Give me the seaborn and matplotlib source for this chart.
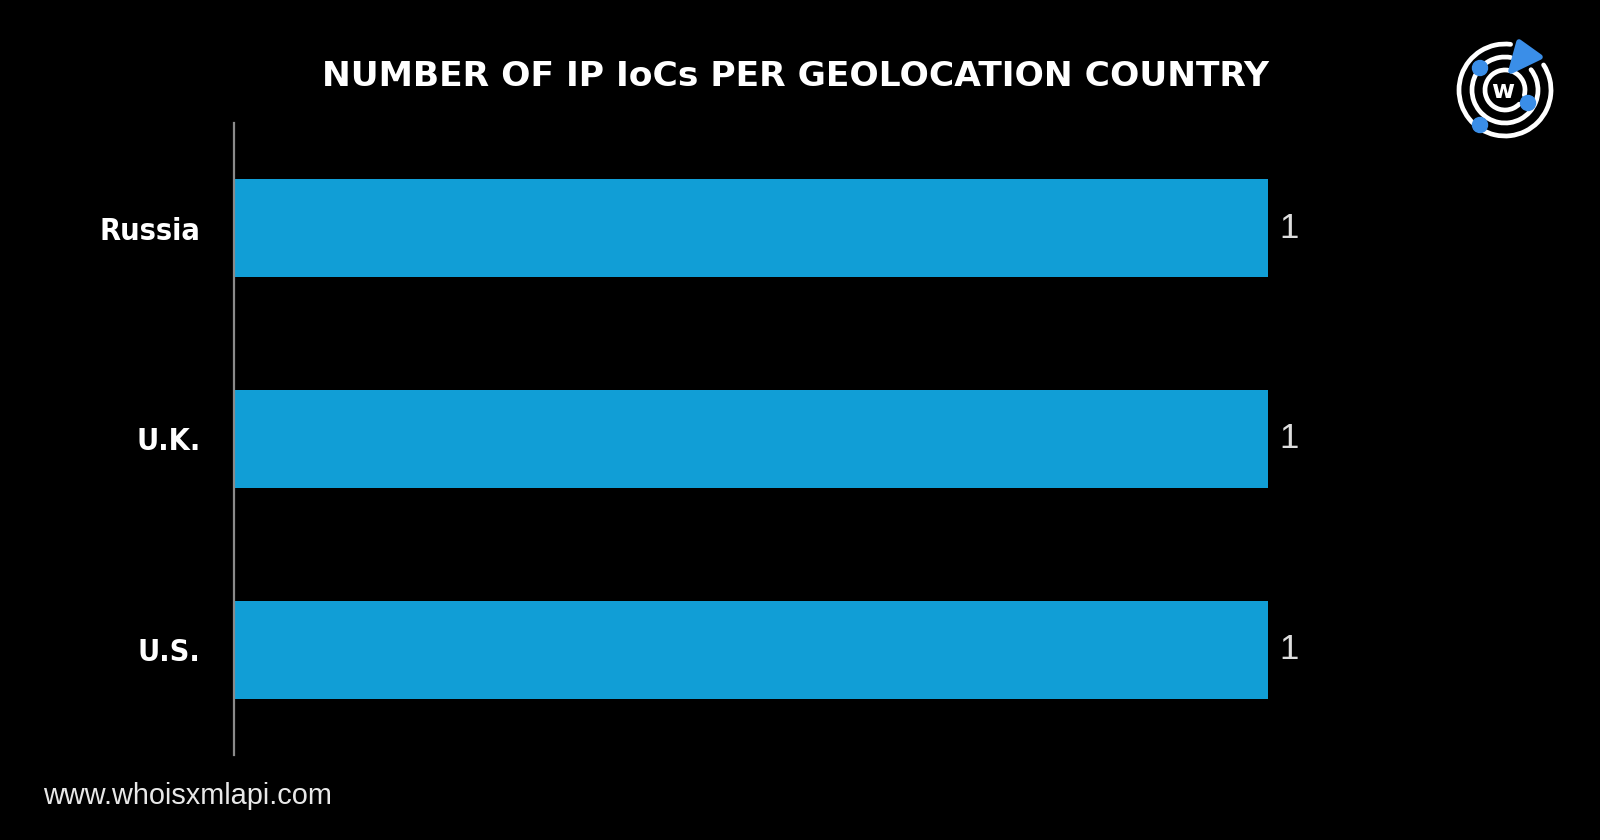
import matplotlib
matplotlib.use("Agg")
import matplotlib.pyplot as plt
import seaborn as sns
import pandas as pd
from matplotlib.patches import Arc, Circle, Polygon

countries = ["Russia", "U.K.", "U.S."]
ioc_counts = [1, 1, 1]
chart_title = "NUMBER OF IP IoCs PER GEOLOCATION COUNTRY"
footer = "www.whoisxmlapi.com"

df = pd.DataFrame({"Country": countries, "IoCs": ioc_counts})

sns.set_style("dark")
plt.rcParams["font.family"] = ["DejaVu Sans"]

fig = plt.figure(figsize=(16, 8.4), dpi=100, facecolor="black")
ax = fig.add_axes([0.14625, 0.1012, 0.64625, 0.7524])
ax.set_facecolor("black")

sns.barplot(data=df, x="IoCs", y="Country", orient="h", color="#119ed6",
            width=0.465, saturation=1, edgecolor="none", linewidth=0, ax=ax)
ax.set_xlim(0, 1)
ax.set_ylim(2.5, -0.5)
ax.set_xlabel("")
ax.set_ylabel("")
ax.set_xticks([])
ax.grid(False)
for side in ["top", "right", "bottom"]:
    ax.spines[side].set_visible(False)
ax.spines["left"].set_color("#8a8a8a")
ax.spines["left"].set_linewidth(1.6)
ax.tick_params(axis="y", length=0, pad=24)
for lbl in ax.get_yticklabels():
    lbl.set_family(["DejaVu Sans"])
    lbl.set_fontstretch("condensed")
    lbl.set_fontweight("bold")
    lbl.set_fontsize(22)
    lbl.set_color("white")

ax.bar_label(ax.containers[0], padding=8, fontsize=25, color="#dedede",
             family=["Liberation Sans", "DejaVu Sans"], clip_on=False)

fig.text(796 / 1600, 1 - 77 / 840, chart_title, ha="center", va="center",
         fontsize=24.8, fontweight="bold", color="white")
fig.text(43 / 1600, 1 - 796 / 840, footer, ha="left", va="center",
         fontsize=20.8, color="#e8e8e8", family=["Liberation Sans", "DejaVu Sans"])

# logo, drawn in pixel coordinates
lax = fig.add_axes([0, 0, 1, 1], zorder=5)
lax.set_xlim(0, 1600)
lax.set_ylim(840, 0)
lax.axis("off")
lax.patch.set_alpha(0)
cx, cy = 1505, 90
logo_blue = "#3a8ee8"


def ring(r, a, b):
    # a, b are visual angles (counter-clockwise, y up)
    lax.add_patch(Arc((cx, cy), 2 * r, 2 * r, theta1=-b, theta2=-a,
                      color="white", lw=3.4, capstyle="round"))


ring(46, 83, 393)
ring(33, 80, 398)
ring(20, -15, 315)
for px, py in [(1480, 68), (1528, 103), (1480, 125)]:
    lax.add_patch(Circle((px, py), 7.5, color=logo_blue, zorder=6))
lax.add_patch(Polygon([(1519, 42), (1540, 57), (1511, 71)], closed=True,
                      color=logo_blue, joinstyle="round", lw=4, zorder=6))
lax.text(cx - 2, cy + 1, "w", ha="center", va="center", fontsize=18,
         fontweight="bold", color="white", zorder=7)

fig.savefig("out.png", dpi=100, facecolor="black")
